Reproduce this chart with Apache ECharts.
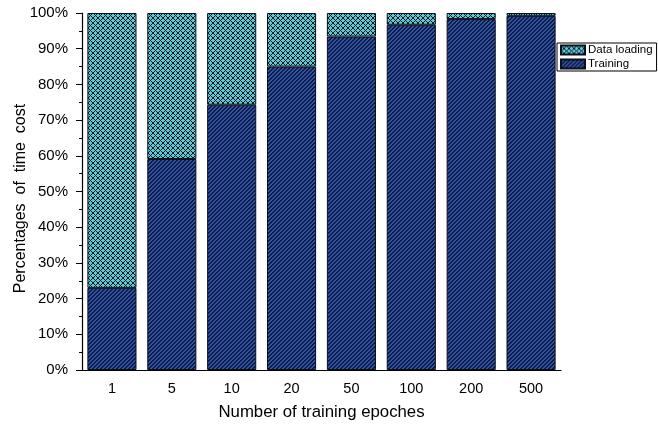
<!DOCTYPE html>
<html>
<head>
<meta charset="utf-8">
<script src="https://cdn.jsdelivr.net/npm/echarts@6/dist/echarts.min.js"></script>
<style>
  html, body { margin: 0; padding: 0; background: #fff; }
  #chart { width: 658px; height: 426px; }
</style>
</head>
<body>
<div id="chart"></div>
<script>
// Epoch counts on the x axis
const epochs = ['1', '5', '10', '20', '50', '100', '200', '500'];
// Share of total time (%) spent training vs. loading data
const training = [23.0, 59.1, 74.3, 85.0, 93.4, 96.7, 98.3, 99.2];
const dataLoading = training.map(v => +(100 - v).toFixed(1));
const yTicks = [0, 10, 20, 30, 40, 50, 60, 70, 80, 90, 100];

// Small tiled fills: diagonal stripes and a crosshatch
function stripeTile() {
  const c = document.createElement('canvas');
  c.width = 4; c.height = 4;
  const g = c.getContext('2d');
  g.fillStyle = '#2f54ad';
  g.fillRect(0, 0, 4, 4);
  g.fillStyle = '#0f1a3c';
  for (let x = 0; x < 4; x++) {
    for (let y = 0; y < 4; y++) {
      const k = (x + y) % 4;
      if (k === 0 || k === 1) g.fillRect(x, y, 1, 1);
    }
  }
  return c;
}
function hatchTile() {
  const n = 5;
  const c = document.createElement('canvas');
  c.width = n; c.height = n;
  const g = c.getContext('2d');
  g.fillStyle = '#58cad8';
  g.fillRect(0, 0, n, n);
  g.fillStyle = '#0c1418';
  for (let x = 0; x < n; x++) {
    for (let y = 0; y < n; y++) {
      if ((x + y) % n === 0 || ((x - y) % n + n) % n === 0) g.fillRect(x, y, 1, 1);
    }
  }
  return c;
}

const chart = echarts.init(document.getElementById('chart'), null, { renderer: 'canvas' });
const font = 'Liberation Sans, Arial, sans-serif';

chart.setOption({
  animation: false,
  grid: { left: 82, right: 97, top: 13, bottom: 56, containLabel: false, outerBoundsMode: 'none' },
  legend: {
    orient: 'vertical',
    left: 557,
    top: 43,
    icon: 'rect',
    itemWidth: 24,
    itemHeight: 9,
    itemGap: 2,
    padding: [1, 4, 1, 3],
    borderColor: '#000',
    borderWidth: 1,
    borderRadius: 0,
    backgroundColor: '#fff',
    textStyle: { fontFamily: font, fontSize: 11.5, color: '#000', padding: [0, 0, 0, -2] },
    data: ['Data loading', 'Training']
  },
  xAxis: [
    {
      type: 'category',
      data: epochs,
      name: 'Number of training epoches',
      nameLocation: 'middle',
      nameGap: 34,
      nameMoveOverlap: false,
      nameTextStyle: { fontFamily: font, fontSize: 16.8, color: '#000' },
      axisLine: { lineStyle: { color: '#000', width: 1.2 } },
      axisTick: { alignWithLabel: true, length: 6, lineStyle: { color: '#000' } },
      axisLabel: { fontFamily: font, fontSize: 14.5, color: '#000', margin: 11 }
    },
    {
      type: 'category',
      data: epochs,
      position: 'bottom',
      offset: 0,
      axisLine: { show: false },
      axisTick: { length: 3, lineStyle: { color: '#000' } },
      axisLabel: { show: false }
    }
  ],
  yAxis: {
    type: 'value',
    min: 0,
    max: 100,
    interval: 10,
    name: 'Percentages  of  time  cost',
    nameLocation: 'middle',
    nameGap: 53,
    nameMoveOverlap: false,
    nameTextStyle: { fontFamily: font, fontSize: 16, color: '#000', padding: [0, 14, 0, 0] },
    axisLine: { show: true, lineStyle: { color: '#000', width: 1.2 } },
    axisTick: { show: true, length: 6, lineStyle: { color: '#000' } },
    minorTick: { show: true, splitNumber: 2, length: 3, lineStyle: { color: '#000' } },
    splitLine: { show: false },
    axisLabel: {
      fontFamily: font, fontSize: 15, color: '#000', margin: 14,
      formatter: v => yTicks.includes(v) ? v + '%' : ''
    }
  },
  series: [
    {
      name: 'Training',
      type: 'bar',
      stack: 'total',
      barWidth: '82%',
      data: training,
      itemStyle: {
        color: { image: stripeTile(), repeat: 'repeat' },
        borderColor: '#0a0f1c',
        borderWidth: 1
      }
    },
    {
      name: 'Data loading',
      type: 'bar',
      stack: 'total',
      barWidth: '82%',
      data: dataLoading,
      itemStyle: {
        color: { image: hatchTile(), repeat: 'repeat' },
        borderColor: '#0a0f1c',
        borderWidth: 1
      }
    }
  ]
});
</script>
</body>
</html>
